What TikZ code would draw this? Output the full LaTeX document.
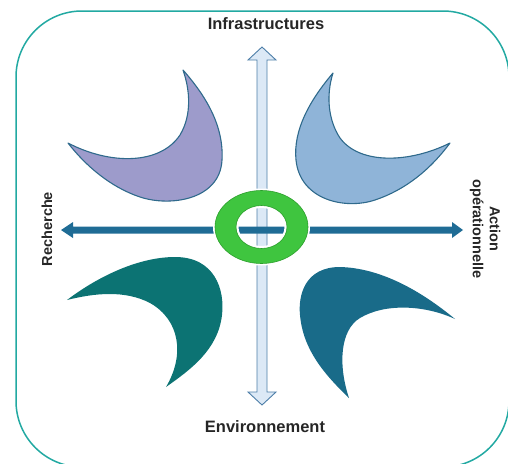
\documentclass[tikz,border=0pt]{standalone}
\usepackage{fontspec}
\setmainfont{Liberation Sans}
\begin{document}
\begin{tikzpicture}[x=1pt,y=-1pt,
  lbl/.style={font=\bfseries, text=black!85, inner sep=0pt},
  petal/.style={draw=petalline, line width=1.1pt, line join=round},
]
\definecolor{frame}{HTML}{22A9A2}
\definecolor{petalline}{HTML}{2F6A8C}
\definecolor{lav}{HTML}{9D9BCB}
\definecolor{lblue}{HTML}{8FB4D8}
\definecolor{teal1}{HTML}{0C7373}
\definecolor{teal2}{HTML}{196B89}
\definecolor{varrowfill}{HTML}{DCE9F6}
\definecolor{varrowline}{HTML}{4D7EA8}
\definecolor{harrow}{HTML}{1F6C95}
\definecolor{ringg}{HTML}{3FC53F}
\definecolor{ringline}{HTML}{2B9F2B}
\useasboundingbox (0,0) rectangle (508,463);
% frame
\draw[frame, line width=1.5pt, rounded corners=66pt] (16,11) rectangle (509,467);
% petals
\filldraw[petal, fill=lav]
  (183,70) .. controls (205,95) and (224,125) .. (222,160)
  .. controls (220,200) and (170,207) .. (140,197)
  .. controls (110,187) and (85,165) .. (68,143)
  .. controls (110,165) and (160,165) .. (180,135)
  .. controls (192,115) and (190,90) .. (183,70) -- cycle;
\filldraw[petal, fill=lblue]
  (333,73) .. controls (310,100) and (293,130) .. (296,160)
  .. controls (300,200) and (345,210) .. (375,200)
  .. controls (405,190) and (430,170) .. (450,143)
  .. controls (410,163) and (360,165) .. (340,138)
  .. controls (328,120) and (326,95) .. (333,73) -- cycle;
\fill[teal1]
  (67,300) .. controls (100,275) and (140,257) .. (175,257)
  .. controls (215,257) and (225,290) .. (222,315)
  .. controls (218,350) and (190,370) .. (166,387)
  .. controls (185,355) and (180,320) .. (150,303)
  .. controls (125,290) and (95,293) .. (67,300) -- cycle;
\fill[teal2]
  (455,319) .. controls (420,290) and (380,268) .. (340,267)
  .. controls (305,267) and (298,295) .. (300,315)
  .. controls (303,350) and (325,375) .. (349,398)
  .. controls (338,365) and (340,330) .. (360,318)
  .. controls (385,303) and (425,305) .. (455,319) -- cycle;
% vertical double arrow
\filldraw[fill=varrowfill, draw=varrowline, line width=0.9pt, line join=miter]
  (262,47) -- (276,60) -- (267,60) -- (267,392) -- (276,392) -- (262,405)
  -- (248,392) -- (257,392) -- (257,60) -- (248,60) -- cycle;
% horizontal double arrow
\fill[harrow]
  (61,230) -- (73,222) -- (73,226.5) -- (452,226.5) -- (452,222) -- (463,230)
  -- (452,238) -- (452,233.5) -- (73,233.5) -- (73,238) -- cycle;
% ring
\fill[white, even odd rule] (261.5,227) ellipse [x radius=48.5, y radius=38.5]
  (261.5,227) ellipse [x radius=23, y radius=19];
\filldraw[fill=ringg, draw=ringline, line width=0.6pt, even odd rule]
  (261.5,227) ellipse [x radius=46.5, y radius=36.5]
  (261.5,227) ellipse [x radius=25.5, y radius=21.5];
% labels
\node[lbl, font=\fontsize{16.5}{19}\bfseries] (infra) at (266,24) {Infrastructures};
\node[lbl, font=\fontsize{16.5}{19}\bfseries] (envir) at (265,427) {Environnement};
\node[lbl, font=\fontsize{14.5}{17}\bfseries, rotate=90] (rech) at (47,229) {Recherche};
\node[lbl, font=\fontsize{14.5}{17}\bfseries, rotate=-90, align=center] (action) at (485,229) {Action\\opérationnelle};
\end{tikzpicture}
\end{document}
